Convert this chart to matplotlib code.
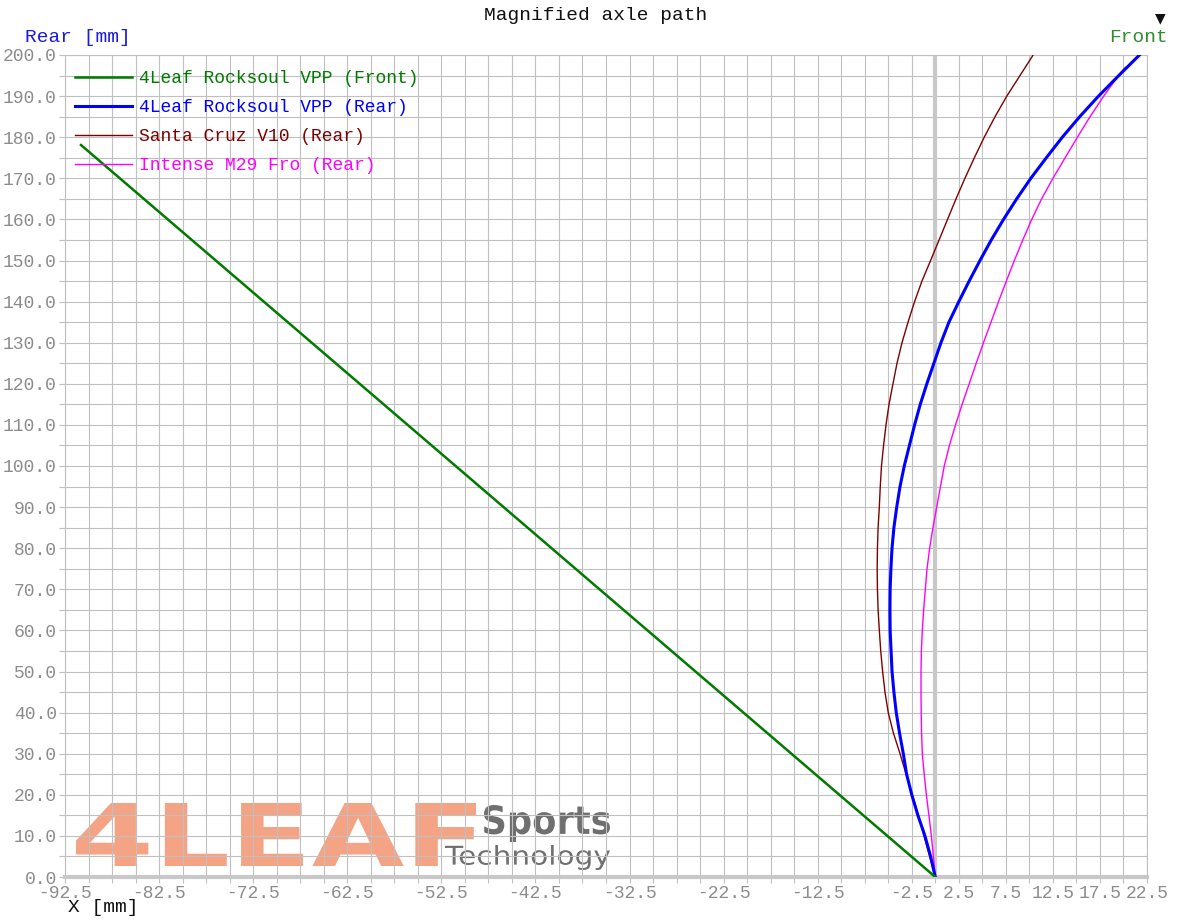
import matplotlib
matplotlib.use('Agg')
import matplotlib.pyplot as plt
from matplotlib.ticker import MultipleLocator, FixedLocator
from matplotlib.textpath import TextPath
from matplotlib.patches import PathPatch
from matplotlib.font_manager import FontProperties
from matplotlib.transforms import Affine2D, IdentityTransform

# ---------------- data ----------------
title = "Magnified axle path"
series_labels = ["4Leaf Rocksoul VPP (Front)", "4Leaf Rocksoul VPP (Rear)",
                 "Santa Cruz V10 (Rear)", "Intense M29 Fro (Rear)"]

front_x = [0.0, -90.8]
front_y = [0.0, 178.1]

rear_y = [0, 5, 10, 15, 20, 25, 30, 35, 40, 45, 50, 55, 60, 65, 70, 75, 80, 85, 90, 95, 100,
          105, 110, 115, 120, 125, 130, 135, 140, 145, 150, 155, 160, 165, 170, 175, 180,
          185, 190, 195, 200]
rear_x = [0, -0.5, -1.1, -1.85, -2.5, -3.05, -3.4, -3.8, -4.15, -4.4, -4.6, -4.7, -4.8, -4.82,
          -4.8, -4.72, -4.6, -4.4, -4.1, -3.75, -3.3, -2.75, -2.2, -1.6, -0.9, -0.15, 0.6, 1.45,
          2.5, 3.6, 4.75, 5.95, 7.25, 8.65, 10.15, 11.8, 13.5, 15.35, 17.35, 19.5, 21.7]

sc_y = [0, 5, 10, 15, 20, 25, 30, 35, 40, 45, 50, 55, 60, 65, 70, 75, 80, 85, 90, 95, 100,
        105, 110, 115, 120, 125, 130, 135, 140, 145, 150, 155, 160, 165, 170, 175, 180,
        185, 190, 195, 200]
sc_x = [0, -0.6, -1.2, -1.8, -2.45, -3.1, -3.75, -4.45, -5.0, -5.35, -5.6, -5.8, -5.95, -6.08,
        -6.15, -6.18, -6.15, -6.08, -5.95, -5.85, -5.72, -5.5, -5.24, -4.92, -4.5, -4.07, -3.54,
        -2.9, -2.2, -1.42, -0.5, 0.4, 1.3, 2.2, 3.15, 4.15, 5.2, 6.35, 7.6, 9.0, 10.4]

it_y = [0, 5, 10, 15, 20, 25, 30, 35, 40, 45, 50, 55, 60, 65, 70, 75, 80, 85, 90, 95, 100,
        105, 110, 115, 120, 125, 130, 135, 140, 145, 150, 155, 160, 165, 170, 175, 180,
        185, 190, 195, 197]
it_x = [0, -0.2, -0.42, -0.68, -0.95, -1.18, -1.38, -1.46, -1.5, -1.52, -1.52, -1.48, -1.38,
        -1.24, -1.06, -0.88, -0.6, -0.25, 0.15, 0.55, 0.95, 1.5, 2.15, 2.85, 3.6, 4.35, 5.12,
        5.92, 6.72, 7.55, 8.4, 9.3, 10.25, 11.3, 12.5, 13.8, 15.1, 16.45, 17.9, 19.45, 20.2]

xtick_vals = [-92.5, -82.5, -72.5, -62.5, -52.5, -42.5, -32.5, -22.5, -12.5, -2.5,
              2.5, 7.5, 12.5, 17.5, 22.5]
ytick_vals = list(range(0, 201, 10))

# ---------------- figure ----------------
W, H = 1194, 924
MONO = 'Liberation Mono'
fig = plt.figure(figsize=(W / 100, H / 100), dpi=100)
fig.patch.set_facecolor('white')
L, R, T, B = 65, 1147, 55, 877
ax = fig.add_axes([L / W, (H - B) / H, (R - L) / W, (B - T) / H])
ax.set_xlim(-92.5, 22.5)
ax.set_ylim(0, 200)

grid_c = '#c0c0c0'
ax.xaxis.set_major_locator(FixedLocator(xtick_vals))
ax.xaxis.set_minor_locator(MultipleLocator(2.5))
ax.yaxis.set_major_locator(FixedLocator(ytick_vals))
ax.yaxis.set_minor_locator(MultipleLocator(5))
ax.set_xticklabels([f"{v:.1f}" for v in xtick_vals])
ax.set_yticklabels([f"{v:.1f}" for v in ytick_vals])
ax.grid(True, which='both', color=grid_c, linewidth=0.8)
ax.tick_params(which='both', direction='out', length=4, color=grid_c, width=0.8,
               labelcolor='#8c8c8c', labelsize=13, pad=2)
for lab in ax.get_xticklabels() + ax.get_yticklabels():
    lab.set_fontfamily(MONO)
for s in ['left', 'top', 'right']:
    ax.spines[s].set_color(grid_c)
    ax.spines[s].set_linewidth(0.8)
ax.spines['bottom'].set_color('#c8c8c8')
ax.spines['bottom'].set_linewidth(3)
ax.axvline(0, color='#c8c8c8', linewidth=3, zorder=1.6)

# ---------------- logo watermark ----------------
def fit_text(s, x0, y0, x1, y1, color, weight='normal', family='DejaVu Sans', z=1.0):
    tp = TextPath((0, 0), s, size=100, prop=FontProperties(family=family, weight=weight))
    ext = tp.get_extents()
    sx = (x1 - x0) / ext.width
    sy = (y1 - y0) / ext.height
    tr = (Affine2D().translate(-ext.x0, -ext.y0).scale(sx, sy)
          .translate(x0, H - y1))
    p = PathPatch(tr.transform_path(tp), facecolor=color, edgecolor='none',
                  transform=IdentityTransform(), zorder=z, clip_on=False)
    ax.add_patch(p)

fit_text("4LEAF", 76, 803, 476, 866, '#f4a384', weight='bold')
fit_text("Sports", 484, 805, 610, 842, '#6f6f6f', weight='bold')
fit_text("Technology", 445, 845, 610, 870, '#707070')

# ---------------- curves ----------------
ax.plot(sc_x, sc_y, color='#800000', linewidth=1.0, zorder=3, label=series_labels[2])
ax.plot(it_x, it_y, color='#ff00ff', linewidth=1.0, zorder=3, label=series_labels[3])
ax.plot(rear_x, rear_y, color='#0000ff', linewidth=2.2, zorder=4, label=series_labels[1])
ax.plot(front_x, front_y, color='#007a00', linewidth=1.8, zorder=5, label=series_labels[0])

handles, labels = ax.get_legend_handles_labels()
order = [3, 2, 0, 1]
leg = ax.legend([handles[i] for i in order], [labels[i] for i in order],
                loc='upper left', bbox_to_anchor=(-5 / (R - L), 1.0), frameon=False,
                prop=FontProperties(family=MONO, size=13), handlelength=3.15,
                handletextpad=0.35, labelspacing=0.66, borderaxespad=0.65,
                borderpad=0.2, labelcolor='linecolor')
leg.set_zorder(6)

# ---------------- texts ----------------
fig.text(596 / W, 1 - 15 / H, title, ha='center', va='center', fontsize=14,
         family=MONO, color='#111111')
fig.text(25 / W, 1 - 38 / H, "Rear [mm]", ha='left', va='center', fontsize=14,
         family=MONO, color='#1a1ae0')
fig.text(1168 / W, 1 - 38 / H, "Front", ha='right', va='center', fontsize=14,
         family=MONO, color='#2f8f2f')
fig.text(68 / W, 1 - 908 / H, "X [mm]", ha='left', va='center', fontsize=14,
         family=MONO, color='#111111')
fig.text(1160 / W, 1 - 18 / H, "\u25BC", ha='center', va='center', fontsize=10,
         family='DejaVu Sans', color='#111111')

fig.savefig('out.png', dpi=100, facecolor='white')
